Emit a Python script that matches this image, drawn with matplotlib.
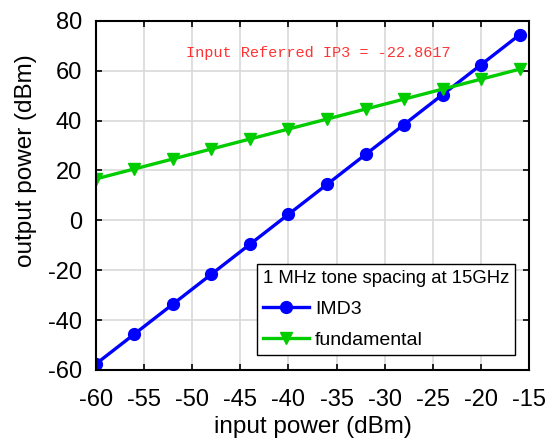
import matplotlib
matplotlib.use("Agg")
import matplotlib.pyplot as plt

# Two-tone test: input sweep and measured output powers (dBm)
input_power = [-60, -56, -52, -48, -44, -40, -36, -32, -28, -24, -20, -16]
imd3_power = [-57.6, -45.6, -33.6, -21.6, -9.6, 2.4, 14.4, 26.4, 38.4, 50.4, 62.4, 74.4]
fund_power = [16.6, 20.6, 24.6, 28.6, 32.6, 36.6, 40.6, 44.6, 48.6, 52.6, 56.6, 60.6]
ip3_text = "Input Referred IP3 = -22.8617"

x_ticks = [-60, -55, -50, -45, -40, -35, -30, -25, -20, -15]
y_ticks = [-60, -40, -20, 0, 20, 40, 60, 80]

plt.rcParams['font.family'] = ['Liberation Sans', 'DejaVu Sans']
plt.rcParams['axes.unicode_minus'] = False

fig = plt.figure(figsize=(5.45, 4.43), dpi=100)
ax = fig.add_axes([0.176, 0.165, 0.795, 0.788])

ax.plot(input_power, imd3_power, color='#0000ff', lw=2.4, marker='o', ms=8.5, label='IMD3')
ax.plot(input_power, fund_power, color='#00cc00', lw=2.4, marker='v', ms=8.5, label='fundamental')

ax.set_xlim(-60, -15)
ax.set_ylim(-60, 80)
ax.set_xticks(x_ticks)
ax.set_yticks(y_ticks)
ax.grid(True, color='#d9d9d9', lw=1.2)
ax.set_axisbelow(True)
ax.tick_params(direction='in', labelsize=17, width=1.2, length=4, top=True, right=True)
ax.tick_params(axis='x', pad=14)
ax.tick_params(axis='y', pad=10)
for s in ax.spines.values():
    s.set_linewidth(1.5)

ax.set_xlabel("input power (dBm)", fontsize=17.5, labelpad=3)
ax.set_ylabel("output power (dBm)", fontsize=17.5)
ax.yaxis.set_label_coords(-0.135, 0.6)

ax.text(-50.6, 67.2, ip3_text, color='#ff3333', fontsize=11,
        family=['Liberation Mono', 'DejaVu Sans Mono'], va='center')

leg = ax.legend(title="1 MHz tone spacing at 15GHz", fontsize=14, title_fontsize=13.3,
                loc='lower right', bbox_to_anchor=(0.967, 0.043), frameon=True,
                fancybox=False, edgecolor='black', framealpha=1,
                handlelength=2.4, borderpad=0.3, labelspacing=0.7, handletextpad=0.3,
                borderaxespad=0)
leg._legend_box.align = 'left'
leg.get_frame().set_linewidth(1.0)

fig.savefig("out.png", dpi=100)
